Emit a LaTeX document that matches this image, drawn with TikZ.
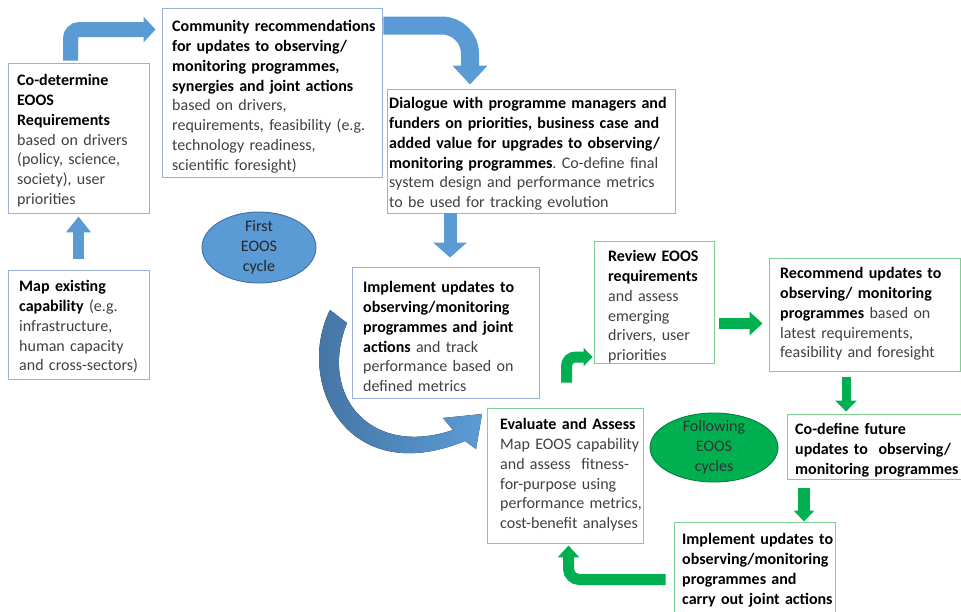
\documentclass[tikz,border=0pt]{standalone}
\usepackage{fontspec}
\setmainfont{Carlito}
\usetikzlibrary{arrows.meta,shapes.geometric}
\definecolor{arrowblue}{RGB}{91,155,213}
\definecolor{darkblue}{RGB}{66,112,158}
\definecolor{boxblue}{RGB}{150,178,215}
\definecolor{arrowgreen}{RGB}{0,176,80}
\definecolor{boxgreen}{RGB}{125,210,145}
\definecolor{darkgreen}{RGB}{0,130,60}
\definecolor{textgray}{RGB}{64,64,64}
\newcommand{\hl}[1]{\textbf{\color{black}#1}}

\begin{document}
\begin{tikzpicture}[x=1pt, y=-1pt]
    \tikzstyle{blue_box} = [draw=boxblue, line width=0.9pt, inner sep=0pt]
    \tikzstyle{green_box} = [draw=boxgreen, line width=0.9pt, inner sep=0pt]
    \tikzstyle{body_text} = [anchor=north west, inner sep=0pt, text width=300pt, align=left, text=textgray, font=\fontsize{16}{19.8}\selectfont\frenchspacing]
    \tikzstyle{cycle_style} = [ellipse, line width=0.9pt, inner sep=0pt]
    \tikzstyle{cycle_text} = [inner sep=0pt, align=center, font=\fontsize{16}{19.8}\selectfont]
    \tikzstyle{blue_arrow} = [arrowblue]
    \tikzstyle{green_arrow} = [arrowgreen]

    \useasboundingbox (0,0) rectangle (961,611);

    % first cycle
    \node[blue_box, minimum width=141pt, minimum height=150pt] (co_det) at (78.5,138) {};
    \node[body_text] (co_det_text) at (17,74.3) {\hl{Co-determine\\EOOS\\Requirements}\\based on drivers\\(policy, science,\\society), user\\priorities};

    \node[blue_box, minimum width=220pt, minimum height=169pt] (community) at (272,92.5) {};
    \node[body_text] (community_text) at (172,20.3) {\hl{Community recommendations\\for updates to observing/\\monitoring programmes,\\synergies and joint actions}\\based on drivers,\\requirements, feasibility (e.g.\\technology readiness,\\scientific foresight)};

    \node[blue_box, minimum width=288pt, minimum height=124pt] (dialogue) at (531,151) {};
    \node[body_text] (dialogue_text) at (389,97.3) {\hl{Dialogue with programme managers and\\funders on priorities, business case and\\added value for upgrades to observing/\\monitoring programmes}. Co-define final\\system design and performance metrics\\to be used for tracking evolution};

    \node[blue_box, minimum width=141pt, minimum height=109pt] (map_cap) at (78.5,324.5) {};
    \node[body_text] (map_cap_text) at (19,280.3) {\hl{Map existing\\capability} (e.g.\\infrastructure,\\human capacity\\and cross-sectors)};

    \node[blue_box, minimum width=187pt, minimum height=131pt] (implement) at (445.5,332.5) {};
    \node[body_text] (implement_text) at (363,281.3) {\hl{Implement updates to\\observing/monitoring\\programmes and joint\\actions} and track\\performance based on\\defined metrics};

    \node[cycle_style, fill=arrowblue, draw=darkblue, minimum width=114pt, minimum height=71pt] (first_cycle) at (259,247.5) {};
    \node[cycle_text, text=black!85] (first_cycle_text) at (first_cycle) {First\\EOOS\\cycle};

    \draw[blue_arrow, line width=15pt, rounded corners=9pt, -{Triangle[length=12pt, width=25pt]}]
        ([xshift=-8pt, yshift=2pt]co_det.north) |- ([xshift=-6pt, yshift=-22pt]community.north west);
    \draw[blue_arrow, line width=18pt, rounded corners=28pt, -{Triangle[length=19pt, width=34pt]}]
        ([xshift=1pt, yshift=-18pt]community.north east) -| ([xshift=-61pt, yshift=4pt]dialogue.north);
    \draw[blue_arrow, line width=11pt, -{Triangle[length=16pt, width=24pt]}]
        ([yshift=11pt]map_cap.north) -- ([yshift=-3pt]co_det.south);
    \draw[blue_arrow, line width=13pt, -{Triangle[length=15pt, width=33pt]}]
        ([xshift=-81pt]dialogue.south) -- ([xshift=4.5pt, yshift=9pt]implement.north);

    % curved arrow into the following cycles
    \fill[left color=darkblue, right color=arrowblue]
        (330,310) .. controls (295,380) and (345,490) .. (465,441) -- (476,449) -- (482,414)
        -- (443,418) -- (453,430) .. controls (370,458) and (318,395) .. (347,323) -- cycle;

    % following cycles
    \node[green_box, minimum width=120pt, minimum height=122pt] (review) at (654,302) {};
    \node[body_text] (review_text) at (608,250.3) {\hl{Review EOOS\\requirements}\\and assess\\emerging\\drivers, user\\priorities};

    \node[green_box, minimum width=191pt, minimum height=113pt] (recommend) at (864.5,314.5) {};
    \node[body_text] (recommend_text) at (780,267.3) {\hl{Recommend updates to\\observing/ monitoring\\programmes} based on\\latest requirements,\\feasibility and foresight};

    \node[green_box, minimum width=156pt, minimum height=135pt] (evaluate) at (565,475.5) {};
    \node[body_text] (evaluate_text) at (500,418.3) {\hl{Evaluate and Assess}\\Map EOOS capability\\and assess~ fitness-\\for-purpose using\\performance metrics,\\cost-benefit analyses};

    \node[green_box, minimum width=175pt, minimum height=65pt] (codefine) at (874.5,446.5) {};
    \node[body_text] (codefine_text) at (795,423.3) {\hl{Co-define future\\updates to~ observing/\\monitoring programmes}};

    \node[green_box, minimum width=161pt, minimum height=103pt] (impl_green) at (754.5,573.5) {};
    \node[body_text] (impl_green_text) at (682,533.3) {\hl{Implement updates to\\observing/monitoring\\programmes and\\carry out joint actions}};

    \node[cycle_style, fill=arrowgreen, draw=darkgreen, minimum width=128pt, minimum height=69pt] (next_cycle) at (714,447.5) {};
    \node[cycle_text, text=black!80] (next_cycle_text) at (next_cycle) {Following\\EOOS\\cycles};

    \draw[green_arrow, line width=11pt, rounded corners=9pt, -{Triangle[length=9pt, width=18pt]}]
        ([xshift=1.5pt, yshift=25pt]evaluate.north) |- ([xshift=-1pt, yshift=-55pt]review.west);
    \draw[green_arrow, line width=11pt, -{Triangle[length=13pt, width=23pt]}]
        ([xshift=5pt, yshift=-21.5pt]review.east) -- ([xshift=-6pt, yshift=-9pt]recommend.west);
    \draw[green_arrow, line width=9pt, -{Triangle[length=11pt, width=21pt]}]
        ([xshift=-18.5pt, yshift=-6pt]recommend.south) -- ([xshift=-28.5pt, yshift=2pt]codefine.north);
    \draw[green_arrow, line width=12pt, -{Triangle[length=11pt, width=20pt]}]
        ([xshift=-70.5pt, yshift=-9pt]codefine.south) -- ([xshift=49.5pt]impl_green.north);
    \draw[green_arrow, line width=11pt, rounded corners=11pt, -{Triangle[length=12pt, width=21pt]}]
        ([xshift=-8pt, yshift=-6pt]impl_green.west) -| ([xshift=3.5pt, yshift=-2pt]evaluate.south);

\end{tikzpicture}
\end{document}
